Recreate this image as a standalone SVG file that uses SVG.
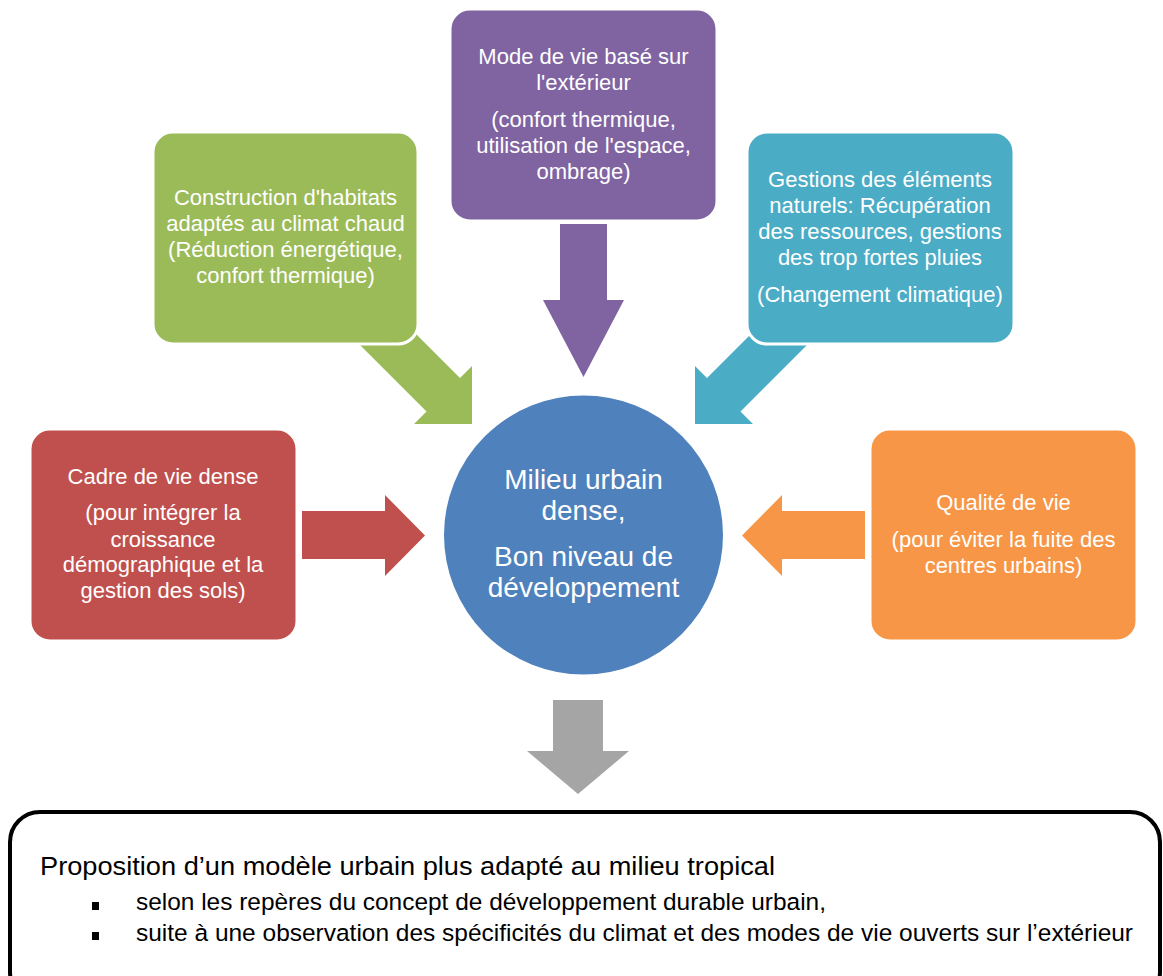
<svg xmlns="http://www.w3.org/2000/svg" width="1163" height="976" viewBox="0 0 1163 976">
<style>
text{font-family:"Liberation Sans",Arial,sans-serif;}
.nt{fill:#ffffff;font-size:22px;text-anchor:middle;}
.ct{fill:#ffffff;font-size:28px;text-anchor:middle;}
.bt{fill:#000000;font-size:24.5px;}
.box{stroke:#ffffff;stroke-width:3;}
</style>
<rect width="1163" height="976" fill="#ffffff"/>
<g id="connectors">
<polygon points="340,325 373.5,291.5 460,378 472,366 472,424 414,424 426.5,411.5" fill="#9BBB59"/>
<polygon points="827,325 793.5,291.5 707,378 695,366 695,424 753,424 740.5,411.5" fill="#4BACC6"/>
<polygon points="560,224 607,224 607,300 624,300 583.5,377 543,300 560,300" fill="#8064A2"/>
<polygon points="302,511 385,511 385,495 425,535.5 385,576 385,559 302,559" fill="#C0504D"/>
<polygon points="865,511 782,511 782,495 742,535.5 782,576 782,559 865,559" fill="#F79646"/>
<polygon points="553,700 603,700 603,751 629,751 578,794 527,751 553,751" fill="#A5A5A5"/>
</g>
<g id="node-green">
<rect class="box" x="153" y="132" width="265" height="212" rx="20" fill="#9BBB59"/>
<text class="nt" x="285.5" y="205">Construction d'habitats</text>
<text class="nt" x="285.5" y="231">adaptés au climat chaud</text>
<text class="nt" x="285.5" y="257">(Réduction énergétique,</text>
<text class="nt" x="285.5" y="283">confort thermique)</text>
</g>
<g id="node-purple">
<rect class="box" x="450" y="9" width="267" height="212" rx="20" fill="#8064A2"/>
<text class="nt" x="583.5" y="64">Mode de vie basé sur</text>
<text class="nt" x="583.5" y="90">l'extérieur</text>
<text class="nt" x="583.5" y="127">(confort thermique,</text>
<text class="nt" x="583.5" y="153">utilisation de l'espace,</text>
<text class="nt" x="583.5" y="179">ombrage)</text>
</g>
<g id="node-teal">
<rect class="box" x="747" y="132" width="267" height="212" rx="20" fill="#4BACC6"/>
<text class="nt" x="880" y="187">Gestions des éléments</text>
<text class="nt" x="880" y="213">naturels: Récupération</text>
<text class="nt" x="880" y="239">des ressources, gestions</text>
<text class="nt" x="880" y="265">des trop fortes pluies</text>
<text class="nt" x="880" y="302">(Changement climatique)</text>
</g>
<g id="node-red">
<rect class="box" x="30" y="429" width="267" height="212" rx="20" fill="#C0504D"/>
<text class="nt" x="163" y="484">Cadre de vie dense</text>
<text class="nt" x="163" y="520">(pour intégrer la</text>
<text class="nt" x="163" y="547">croissance</text>
<text class="nt" x="163" y="572">démographique et la</text>
<text class="nt" x="163" y="598">gestion des sols)</text>
</g>
<g id="node-orange">
<rect class="box" x="870" y="429" width="267" height="212" rx="20" fill="#F79646"/>
<text class="nt" x="1003.5" y="510">Qualité de vie</text>
<text class="nt" x="1003.5" y="547">(pour éviter la fuite des</text>
<text class="nt" x="1003.5" y="573">centres urbains)</text>
</g>
<g id="node-center">
<circle cx="583.5" cy="535" r="140.5" fill="#4F81BD" stroke="#ffffff" stroke-width="2"/>
<text class="ct" x="583.5" y="489">Milieu urbain</text>
<text class="ct" x="583.5" y="520">dense,</text>
<text class="ct" x="583.5" y="566">Bon niveau de</text>
<text class="ct" x="583.5" y="597">développement</text>
</g>
<g id="node-bottom">
<rect x="10" y="812" width="1150" height="190" rx="30" fill="#ffffff" stroke="#000000" stroke-width="4"/>
<text class="bt" x="40" y="875" style="font-size:26px" textLength="735" lengthAdjust="spacingAndGlyphs">Proposition d’un modèle urbain plus adapté au milieu tropical</text>
<rect x="92" y="902" width="7" height="8" fill="#000000"/>
<text class="bt" x="136" y="910" textLength="690" lengthAdjust="spacingAndGlyphs">selon les repères du concept de développement durable urbain,</text>
<rect x="92" y="932" width="7" height="8" fill="#000000"/>
<text class="bt" x="136" y="941" textLength="997" lengthAdjust="spacingAndGlyphs">suite à une observation des spécificités du climat et des modes de vie ouverts sur l’extérieur</text>
</g>
</svg>
